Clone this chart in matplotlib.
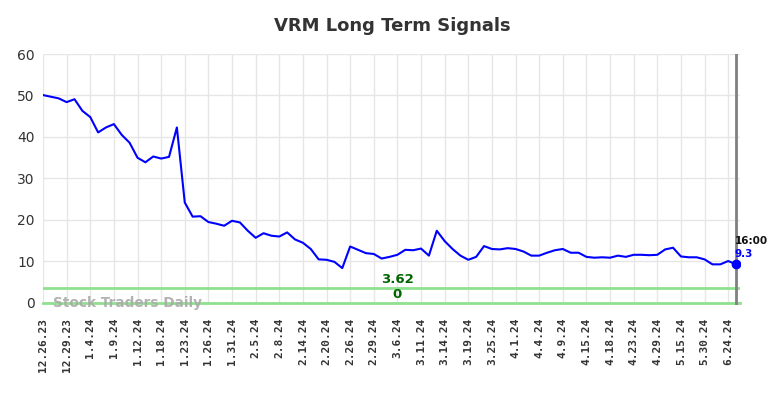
import matplotlib
matplotlib.use("Agg")
import matplotlib.pyplot as plt

values = [50.1, 49.7, 49.3, 48.4, 49.1, 46.3, 44.8, 41.1, 42.3, 43.1,
          40.5, 38.6, 35.0, 33.9, 35.3, 34.8, 35.2, 42.3, 24.2, 20.8,
          20.9, 19.5, 19.1, 18.6, 19.8, 19.4, 17.4, 15.7, 16.8, 16.2,
          16.0, 17.0, 15.3, 14.5, 13.0, 10.5, 10.4, 9.9, 8.4, 13.6,
          12.8, 12.0, 11.8, 10.7, 11.1, 11.6, 12.8, 12.7, 13.1, 11.4,
          17.4, 14.9, 13.0, 11.4, 10.4, 11.1, 13.7, 13.0, 12.9, 13.2,
          13.0, 12.4, 11.4, 11.4, 12.1, 12.7, 13.0, 12.1, 12.1, 11.1,
          10.9, 11.0, 10.9, 11.4, 11.1, 11.6, 11.6, 11.5, 11.6, 12.9,
          13.3, 11.2, 11.0, 11.0, 10.5, 9.3, 9.3, 10.1, 9.3]

tick_labels = ["12.26.23", "12.29.23", "1.4.24", "1.9.24", "1.12.24", "1.18.24",
               "1.23.24", "1.26.24", "1.31.24", "2.5.24", "2.8.24", "2.14.24",
               "2.20.24", "2.26.24", "2.29.24", "3.6.24", "3.11.24", "3.14.24",
               "3.19.24", "3.25.24", "4.1.24", "4.4.24", "4.9.24", "4.15.24",
               "4.18.24", "4.23.24", "4.29.24", "5.15.24", "5.30.24", "6.24.24"]
tick_step = 3

upper_level = 3.62
lower_level = 0
last_time = "16:00"
title = "VRM Long Term Signals"
watermark = "Stock Traders Daily"

fig = plt.figure(figsize=(7.84, 3.98), dpi=100)
ax = fig.add_axes([43/784, 1 - 305/398, (740 - 43)/784, (305 - 54)/398])

n = len(values)
xs = list(range(n))
last = n - 1

ax.set_xlim(0, last + 0.5)
ax.set_ylim(-0.5, 60)

ax.grid(True, color="#e6e6e6", linewidth=1)
ax.set_axisbelow(True)
for s in ax.spines.values():
    s.set_visible(False)

ax.set_yticks(range(0, 61, 10))
ax.tick_params(axis="y", length=0, labelsize=10, labelcolor="#333333", pad=6)
tick_pos = list(range(0, tick_step * len(tick_labels), tick_step))
ax.set_xticks(tick_pos)
ax.set_xticklabels(tick_labels, rotation=90, fontsize=8, fontweight="bold",
                   color="#333333", family="DejaVu Sans Mono")
ax.tick_params(axis="x", length=0, pad=9)

ax.axhline(upper_level, color="#90e090", linewidth=2, zorder=2)
ax.axhline(lower_level, color="#90e090", linewidth=2, zorder=2, clip_on=False)
ax.axvline(last, color="#808080", linewidth=2, zorder=2)

ax.plot(xs, values, color="#0000ff", linewidth=1.5, zorder=3)
ax.plot([last], [values[-1]], "o", color="#0000ff", markersize=6, zorder=4)

ax.text(45, upper_level + 0.5, f"{upper_level:.2f}", color="#006400",
        fontsize=9.5, fontweight="bold", ha="center", va="bottom")
ax.text(45, lower_level + 0.5, f"{lower_level}", color="#006400",
        fontsize=9.5, fontweight="bold", ha="center", va="bottom")

ax.text(1.3, 0, watermark, color="#aaaaaa", fontsize=9.8, fontweight="bold",
        ha="left", va="center", alpha=0.9)

ax.annotate(last_time, (last, values[-1]), xytext=(-1, 17), textcoords="offset points",
            color="#111111", fontsize=7.5, fontweight="bold", ha="left",
            va="center", annotation_clip=False)
ax.annotate(f"{values[-1]}", (last, values[-1]), xytext=(-1, 7.5), textcoords="offset points",
            color="#0000ff", fontsize=7.5, fontweight="bold", ha="left",
            va="center", annotation_clip=False)

fig.text(0.5, 1 - 26/398, title, ha="center", va="center", fontsize=13,
         fontweight="bold", color="#333333")

fig.savefig("out.png", dpi=100, facecolor="white")
